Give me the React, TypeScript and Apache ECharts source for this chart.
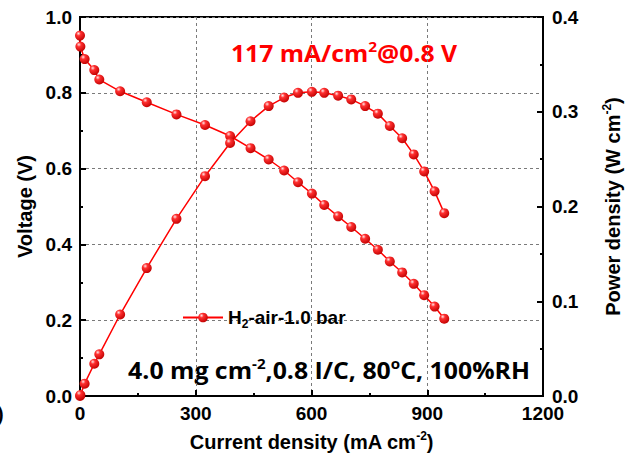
import React, { useEffect, useRef } from 'react';
import * as echarts from 'echarts';

// Polarization data: current density (mA cm^-2), cell voltage (V), power density (W cm^-2)
const currentDensity = [0, 1, 12, 37, 50, 104, 173, 250, 324, 389, 442, 489, 529, 565, 601, 633, 669, 703, 739, 772, 803, 835, 865, 892, 919, 944];
const voltage = [0.951, 0.922, 0.889, 0.860, 0.835, 0.804, 0.775, 0.743, 0.715, 0.686, 0.654, 0.624, 0.595, 0.564, 0.534, 0.504, 0.474, 0.446, 0.415, 0.386, 0.355, 0.326, 0.296, 0.266, 0.236, 0.204];
const powerDensity = [0.000, 0.001, 0.013, 0.034, 0.044, 0.086, 0.135, 0.187, 0.232, 0.267, 0.290, 0.306, 0.315, 0.320, 0.321, 0.320, 0.317, 0.313, 0.306, 0.298, 0.285, 0.272, 0.255, 0.237, 0.216, 0.193];

const seriesName = 'H2-air-1.0 bar';
const RED = '#ff0000';
const AXIS_FONT = '"Liberation Sans", Arial, sans-serif';
const NOTE_FONT = '"Open Sans", "Liberation Sans", sans-serif';

export default function App() {
  const ref = useRef<HTMLDivElement>(null);

  useEffect(() => {
    if (!ref.current) return;
    const chart = echarts.init(ref.current, undefined, { renderer: 'svg' });

    // shaded ball marker
    const sphere = () =>
      new echarts.graphic.RadialGradient(0.35, 0.3, 0.75, [
        { offset: 0, color: '#ffe6e6' },
        { offset: 0.3, color: '#ff3030' },
        { offset: 1, color: '#c00000' },
      ]);

    const axisLabel = {
      color: '#000',
      fontFamily: AXIS_FONT,
      fontWeight: 'bold' as const,
      fontSize: 19,
    };
    const nameRich = {
      a: { fontFamily: AXIS_FONT, fontWeight: 'bold', fontSize: 20, color: '#000', lineHeight: 24 },
      s: { fontFamily: AXIS_FONT, fontWeight: 'bold', fontSize: 12, color: '#000', lineHeight: 12, verticalAlign: 'top' },
    };
    const axisLine = { show: true, lineStyle: { color: '#000', width: 2 } };
    const axisTick = { show: true, inside: true, length: 6, lineStyle: { color: '#000', width: 2 } };
    const minorTick = { show: true, splitNumber: 2, length: 3, lineStyle: { color: '#000', width: 2 } };
    const gridLine = { show: true, lineStyle: { color: '#7a7a7a', type: [3, 3], width: 1 } };

    chart.setOption({
      animation: false,
      backgroundColor: '#fff',
      grid: {
        left: 80,
        right: 91,
        top: 17,
        bottom: 73,
        show: true,
        borderColor: '#000',
        borderWidth: 2,
        backgroundColor: 'transparent',
      },
      legend: {
        left: 177,
        top: 303,
        itemWidth: 40,
        itemHeight: 12,
        data: [seriesName],
        formatter: () => '{a|H}{s|2}{a|-air-1.0 bar}',
        textStyle: {
          rich: {
            a: { fontFamily: AXIS_FONT, fontWeight: 'bold', fontSize: 19, color: '#000', lineHeight: 24 },
            s: { fontFamily: AXIS_FONT, fontWeight: 'bold', fontSize: 12, color: '#000', lineHeight: 12, verticalAlign: 'bottom' },
          },
        },
      },
      xAxis: {
        type: 'value',
        min: 0,
        max: 1200,
        interval: 300,
        name: '{a|Current density (mA cm}{s|-2}{a|)}',
        nameLocation: 'middle',
        nameGap: 34,
        nameTextStyle: { rich: nameRich },
        axisLine,
        axisTick,
        minorTick,
        axisLabel: { ...axisLabel, margin: 8, formatter: (v: number) => String(v) },
        splitLine: gridLine,
      },
      yAxis: [
        {
          type: 'value',
          min: 0,
          max: 1,
          interval: 0.2,
          name: '{a|Voltage (V)}',
          nameLocation: 'middle',
          nameGap: 42,
          nameTextStyle: { rich: nameRich },
          axisLine,
          axisTick,
          minorTick,
          axisLabel: { ...axisLabel, margin: 8, formatter: (v: number) => v.toFixed(1) },
          splitLine: gridLine,
        },
        {
          type: 'value',
          position: 'right',
          min: 0,
          max: 0.4,
          interval: 0.1,
          name: '{a|Power density (W cm}{s|-2}{a|)}',
          nameLocation: 'middle',
          nameGap: 58,
          nameTextStyle: { rich: nameRich },
          axisLine,
          axisTick,
          minorTick,
          axisLabel: { ...axisLabel, margin: 9, formatter: (v: number) => v.toFixed(1) },
          splitLine: { show: false },
        },
      ],
      series: [
        {
          type: 'line',
          name: seriesName,
          yAxisIndex: 0,
          data: currentDensity.map((c, i) => [c, voltage[i]]),
          symbol: 'circle',
          symbolSize: 10,
          lineStyle: { color: RED, width: 1.5 },
          itemStyle: { color: sphere(), borderWidth: 0 },
        },
        {
          type: 'line',
          name: 'Power density',
          yAxisIndex: 1,
          data: currentDensity.map((c, i) => [c, powerDensity[i]]),
          symbol: 'circle',
          symbolSize: 10,
          lineStyle: { color: RED, width: 1.5 },
          itemStyle: { color: sphere(), borderWidth: 0 },
        },
      ],
      graphic: [
        {
          type: 'text',
          x: 344,
          y: 53,
          scaleX: 1.03,
          style: {
            text: '{r|117 mA/cm}{rs|2}{r|@0.8 V}',
            align: 'center',
            verticalAlign: 'middle',
            rich: {
              r: { fontFamily: NOTE_FONT, fontWeight: 'bold', fontSize: 24, fill: RED, lineHeight: 28 },
              rs: { fontFamily: NOTE_FONT, fontWeight: 'bold', fontSize: 15, fill: RED, lineHeight: 15, verticalAlign: 'top' },
            },
          },
        },
        {
          type: 'text',
          x: 329,
          y: 370,
          scaleX: 1.08,
          style: {
            text: '{b|4.0 mg cm}{bs|-2}{b|,0.8 I/C, 80}{bs|o}{b|C, 100%RH}',
            align: 'center',
            verticalAlign: 'middle',
            rich: {
              b: { fontFamily: NOTE_FONT, fontWeight: 'bold', fontSize: 23, fill: '#000', lineHeight: 28 },
              bs: { fontFamily: NOTE_FONT, fontWeight: 'bold', fontSize: 14, fill: '#000', lineHeight: 14, verticalAlign: 'top' },
            },
          },
        },
        {
          type: 'text',
          x: -3,
          y: 414,
          style: {
            text: ')',
            fontFamily: AXIS_FONT,
            fontWeight: 'bold',
            fontSize: 20,
            fill: '#000',
            verticalAlign: 'middle',
          },
        },
      ],
    });

    return () => chart.dispose();
  }, []);

  return (
    <div
      ref={ref}
      style={{ position: 'fixed', left: 0, top: 0, width: 634, height: 469, background: '#fff' }}
    />
  );
}
